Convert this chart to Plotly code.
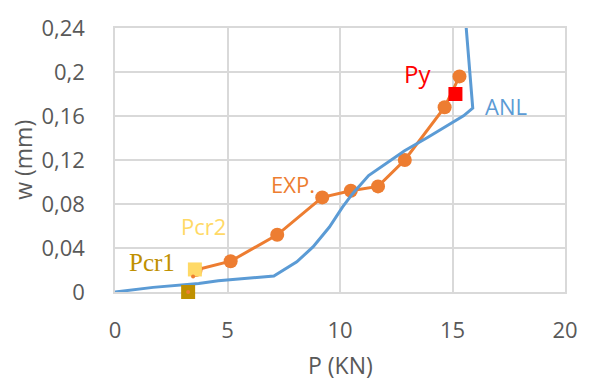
import plotly.graph_objects as go

# Experimental load-deflection curve
exp_p = [3.58, 5.14, 7.21, 9.21, 10.48, 11.69, 12.88, 14.65, 15.31]
exp_w = [0.020, 0.028, 0.052, 0.086, 0.092, 0.096, 0.120, 0.168, 0.196]

# Small markers at the cracking points of the experimental series
exp_start_p = [3.25, 3.47]
exp_start_w = [0.000, 0.014]

# Analytical curve
anl_p = [0.0, 1.69, 3.72, 4.59, 7.06, 8.08, 8.80, 9.53, 10.11, 10.55, 11.27,
         12.0, 12.87, 13.89, 14.91, 15.49, 15.90, 15.61, 15.53]
anl_w = [0.0, 0.0042, 0.0078, 0.0102, 0.0145, 0.0274, 0.0410, 0.0591, 0.0772,
         0.0892, 0.1058, 0.1164, 0.1284, 0.1405, 0.1526, 0.1601, 0.1671, 0.240, 0.260]

# Characteristic points
pcr1 = (3.25, 0.0)
pcr2 = (3.55, 0.0205)
py = (15.13, 0.18)

x_ticks = [0, 5, 10, 15, 20]
y_ticks = [0, 0.04, 0.08, 0.12, 0.16, 0.2, 0.24]
y_tick_text = ["0", "0,04", "0,08", "0,12", "0,16", "0,2", "0,24"]

ORANGE = "#ED7D31"
BLUE = "#5B9BD5"
GRID = "#D9D9D9"
TXT = "#595959"
FONT = "Open Sans"

fig = go.Figure()

fig.add_trace(go.Scatter(x=exp_p, y=exp_w, mode="lines+markers",
                         line=dict(color=ORANGE, width=3),
                         marker=dict(color=ORANGE, size=14)))
fig.add_trace(go.Scatter(x=anl_p, y=anl_w, mode="lines",
                         line=dict(color=BLUE, width=3)))
fig.add_trace(go.Scatter(x=[pcr1[0]], y=[pcr1[1]], mode="markers",
                         marker=dict(symbol="square", color="#BF9000", size=14),
                         cliponaxis=False))
fig.add_trace(go.Scatter(x=[pcr2[0]], y=[pcr2[1]], mode="markers",
                         marker=dict(symbol="square", color="#FFD966", size=14)))
fig.add_trace(go.Scatter(x=[py[0]], y=[py[1]], mode="markers",
                         marker=dict(symbol="square", color="#FF0000", size=14)))
# small dots drawn above the squares
fig.add_trace(go.Scatter(x=exp_start_p, y=exp_start_w, mode="markers",
                         marker=dict(color=ORANGE, size=4), cliponaxis=False))

labels = [
    ("EXP.", 7.91, 0.0986, ORANGE, FONT, 22),
    ("Pcr2", 3.94, 0.0597, "#FFD966", FONT, 22),
    ("Pcr1", 1.63, 0.0271, "#BF9000", "Liberation Serif", 25),
    ("Py", 13.45, 0.199, "#FF0000", FONT, 24),
    ("ANL", 17.37, 0.169, BLUE, FONT, 22),
]
for text, x, y, color, family, size in labels:
    fig.add_annotation(x=x, y=y, text=text, showarrow=False,
                       font=dict(color=color, family=family, size=size),
                       xanchor="center", yanchor="middle")

fig.add_annotation(text="P (KN)", xref="paper", yref="paper", x=0.5, y=-0.277,
                   showarrow=False, font=dict(color=TXT, family=FONT, size=23),
                   xanchor="center", yanchor="middle")
fig.add_annotation(text="w (mm)", xref="paper", yref="paper", x=-0.205, y=0.5,
                   showarrow=False, textangle=-90,
                   font=dict(color=TXT, family=FONT, size=23),
                   xanchor="center", yanchor="middle")

fig.update_xaxes(range=[0, 20], tickvals=x_ticks, showgrid=True, gridcolor=GRID,
                 gridwidth=1.5, zeroline=False, showline=True, linecolor=GRID,
                 linewidth=1.5, mirror=True, ticks="", ticklabelstandoff=18,
                 layer="below traces",
                 tickfont=dict(color=TXT, family=FONT, size=22))
fig.update_yaxes(range=[0, 0.24], tickvals=y_ticks, ticktext=y_tick_text,
                 showgrid=True, gridcolor=GRID, gridwidth=1.5, zeroline=False,
                 showline=True, linecolor=GRID, linewidth=1.5, mirror=True,
                 ticks="", ticklabelstandoff=24, layer="below traces",
                 tickfont=dict(color=TXT, family=FONT, size=22))

fig.update_layout(width=590, height=383, showlegend=False,
                  margin=dict(l=115, r=17, t=27, b=91),
                  paper_bgcolor="white", plot_bgcolor="white",
                  font=dict(family=FONT, color=TXT))

fig.write_html("out.html")
